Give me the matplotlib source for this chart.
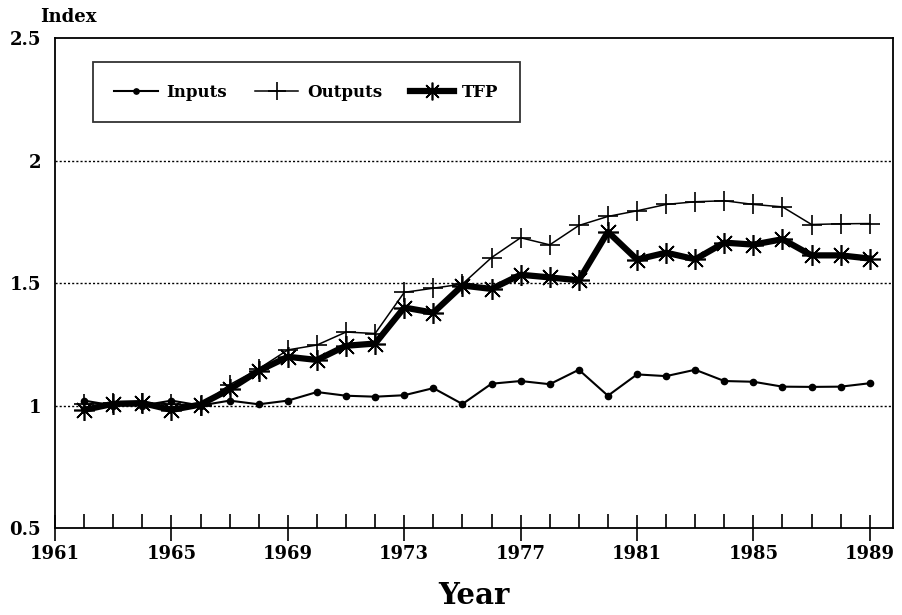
import matplotlib
matplotlib.use("Agg")
import matplotlib.pyplot as plt
from matplotlib.ticker import MultipleLocator

# index values, 1962 = first point
years = list(range(1962, 1990))
inputs = [1.02, 1.00, 1.00, 1.02, 1.00, 1.02, 1.005, 1.02, 1.055, 1.04,
          1.036, 1.042, 1.071, 1.006, 1.089, 1.10, 1.087, 1.146, 1.04, 1.127,
          1.12, 1.146, 1.10, 1.097, 1.077, 1.076, 1.077, 1.091]
outputs = [1.005, 1.01, 1.01, 1.005, 1.00, 1.085, 1.15, 1.227, 1.247, 1.30,
           1.294, 1.462, 1.479, 1.496, 1.604, 1.685, 1.656, 1.735, 1.772, 1.795,
           1.821, 1.832, 1.836, 1.821, 1.811, 1.739, 1.742, 1.743]
tfp = [0.982, 1.007, 1.01, 0.982, 1.004, 1.066, 1.142, 1.199, 1.186, 1.244,
       1.253, 1.40, 1.379, 1.49, 1.476, 1.534, 1.523, 1.511, 1.709, 1.596,
       1.624, 1.597, 1.665, 1.657, 1.679, 1.613, 1.613, 1.60]
xticks = [1961, 1965, 1969, 1973, 1977, 1981, 1985, 1989]
yticks = [0.5, 1, 1.5, 2, 2.5]
ytick_labels = ["0.5", "1", "1.5", "2", "2.5"]

font = "DejaVu Serif"

fig = plt.figure(figsize=(9.03, 6.15), dpi=100)
ax = fig.add_axes([0.061, 0.1415, 0.928, 0.7965])

# dotted reference lines
for g in [1, 1.5, 2]:
    ax.axhline(g, color="black", lw=1, ls=(0, (1.5, 1.5)), zorder=1)

ax.plot(years, inputs, color="black", lw=1.5, marker="o", ms=4.5,
        label="Inputs", zorder=3)
ax.plot(years, outputs, color="black", lw=1.1, marker="+", ms=15, mew=1.2,
        label="Outputs", zorder=2)
ax.plot(years, tfp, color="black", lw=4.5, marker=(8, 2, 0), ms=15, mew=1.2,
        label="TFP", zorder=4)

ax.set_xlim(1961, 1989.8)
ax.set_ylim(0.5, 2.5)
ax.set_xticks(xticks)
ax.set_xticklabels([str(t) for t in xticks], fontfamily=font,
                   fontweight="bold", fontsize=13)
ax.xaxis.set_minor_locator(MultipleLocator(1))
ax.tick_params(axis="x", which="major", direction="inout", length=19,
               width=1.2, pad=3)
ax.tick_params(axis="x", which="minor", direction="in", length=10, width=1.2)
ax.set_yticks(yticks)
ax.set_yticklabels(ytick_labels, fontfamily=font, fontweight="bold",
                   fontsize=13)
ax.tick_params(axis="y", length=0, pad=10)
for s in ax.spines.values():
    s.set_linewidth(1.3)

ax.set_xlabel("Year", fontfamily=font, fontweight="bold", fontsize=21,
              labelpad=13)
fig.text(0.044, 0.958, "Index", fontfamily=font, fontweight="bold",
         fontsize=13, ha="left", va="bottom")

leg = ax.legend(loc="upper left", bbox_to_anchor=(0.045, 0.951), ncol=3,
                frameon=True, fancybox=False, edgecolor="black",
                prop={"family": font, "weight": "bold", "size": 12},
                handlelength=2.6, columnspacing=1.7, borderpad=1.3,
                handletextpad=0.5, markerscale=0.85, borderaxespad=0)
leg.get_frame().set_linewidth(1.3)

fig.savefig("out.png", dpi=100)
